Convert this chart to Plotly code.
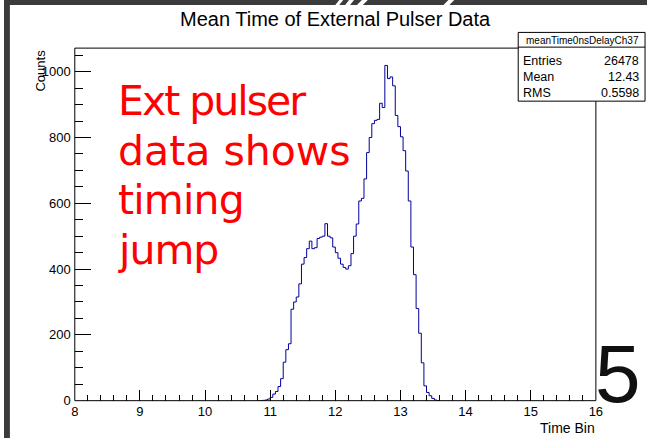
import plotly.graph_objects as go

# ---------------- data ----------------
bin_start = 10.84
bin_width = 0.04
counts = [0, 1, 2, 5, 10, 20, 28, 43, 67, 117, 155, 173, 278, 300, 315, 355,
          415, 435, 462, 485, 462, 465, 493, 497, 500, 538, 500, 495, 467, 450,
          433, 415, 405, 400, 410, 447, 500, 537, 607, 615, 674, 754, 800, 842,
          852, 855, 904, 891, 1019, 979, 984, 957, 867, 833, 802, 760, 698, 607,
          467, 383, 280, 205, 115, 45, 25, 15, 7, 2, 0]

x_ticks = [8, 9, 10, 11, 12, 13, 14, 15, 16]
y_ticks = [0, 200, 400, 600, 800, 1000]

title = "Mean Time of External Pulser Data"
stats_name = "meanTime0nsDelayCh37"
stats_labels = ["Entries", "Mean", "RMS"]
stats_values = ["26478", "12.43", "0.5598"]
note_lines = ["Ext pulser", "data shows", "timing", "jump"]
note_spacing = [-2.0, 0.0, -0.8, -1.0]
slide_number = "5"
x_title = "Time Bin"
y_title = "Counts"

# ---------------- geometry ----------------
W, H = 654, 446
def px(x):
    return x / W
def py(y):
    return 1 - y / H

L, R, T, B = 72, 602, 49, 408
y_max = 1071.6
FONT = "Liberation Sans, Arial, Helvetica, sans-serif"

edges = [bin_start + i * bin_width for i in range(len(counts) + 1)]
ys = counts + [counts[-1]]

fig = go.Figure()
fig.add_trace(go.Scatter(
    x=edges, y=ys, mode="lines", line=dict(shape="hv", color="#00009a", width=1),
    hoverinfo="skip", showlegend=False))

fig.update_layout(
    width=W, height=H, margin=dict(l=0, r=0, t=0, b=0),
    paper_bgcolor="white", plot_bgcolor="white",
    font=dict(family=FONT, color="black"),
    showlegend=False,
    xaxis=dict(domain=[px(L), px(R)], range=[8, 16], tickvals=x_ticks,
               ticktext=[str(v) for v in x_ticks],
               ticks="inside", ticklen=11, tickwidth=1, tickcolor="black",
               minor=dict(dtick=0.2, ticks="inside", ticklen=5.5, tickcolor="black", tickwidth=1),
               showgrid=False, zeroline=False, showline=False,
               tickfont=dict(size=13, family=FONT), ticklabelstandoff=1),
    yaxis=dict(domain=[py(B), py(T)], range=[0, y_max], tickvals=y_ticks,
               ticktext=[str(v) for v in y_ticks],
               ticks="inside", ticklen=16, tickwidth=1, tickcolor="black",
               minor=dict(dtick=50, ticks="inside", ticklen=8, tickcolor="black", tickwidth=1),
               showgrid=False, zeroline=False, showline=False,
               tickfont=dict(size=13, family=FONT), ticklabelstandoff=3),
)

shapes = []
# dark slide borders
shapes.append(dict(type="rect", xref="paper", yref="paper", x0=0, x1=1, y0=py(5), y1=1,
                   fillcolor="#3b3b3b", line=dict(width=0), layer="above"))
shapes.append(dict(type="rect", xref="paper", yref="paper", x0=0, x1=px(6), y0=0, y1=1,
                   fillcolor="#3b3b3b", line=dict(width=0), layer="above"))
# white slashes in the top band
for (xb, xt, w) in [(337, 341, 4), (347, 351, 5), (359, 364, 6), (447, 452, 6)]:
    path = (f"M {px(xb)},{py(5)} L {px(xb + w)},{py(5)} L {px(xt + w)},{py(0)} "
            f"L {px(xt)},{py(0)} Z")
    shapes.append(dict(type="path", xref="paper", yref="paper", path=path,
                       fillcolor="white", line=dict(width=0), layer="above"))
# frame
shapes.append(dict(type="rect", xref="paper", yref="paper", x0=px(L), x1=px(R), y0=py(B), y1=py(T),
                   line=dict(color="black", width=1), fillcolor="rgba(0,0,0,0)", layer="above"))
# stats box
SB_L, SB_R, SB_T, SB_B, SB_SEP = 523, 652, 33, 103, 48
shapes.append(dict(type="rect", xref="paper", yref="paper", x0=px(SB_L), x1=px(SB_R),
                   y0=py(SB_B), y1=py(SB_T), fillcolor="white",
                   line=dict(color="black", width=1), layer="above"))
shapes.append(dict(type="line", xref="paper", yref="paper", x0=px(SB_L), x1=px(SB_R),
                   y0=py(SB_SEP), y1=py(SB_SEP), line=dict(color="black", width=1), layer="above"))
fig.update_layout(shapes=shapes)

ann = []
ann.append(dict(text=title, x=px(337), y=py(19), xref="paper", yref="paper",
                xanchor="center", yanchor="middle", showarrow=False,
                font=dict(size=20, family=FONT, color="black")))
ann.append(dict(text=stats_name, x=px(588), y=py(41), xref="paper", yref="paper",
                xanchor="center", yanchor="middle", showarrow=False,
                font=dict(size=10, family=FONT, color="black")))
for i, (lab, val) in enumerate(zip(stats_labels, stats_values)):
    yy = 62 + i * 16.5
    ann.append(dict(text=lab, x=px(526), y=py(yy), xref="paper", yref="paper",
                    xanchor="left", yanchor="middle", showarrow=False,
                    font=dict(size=12.5, family=FONT, color="black")))
    ann.append(dict(text=val, x=px(648), y=py(yy), xref="paper", yref="paper",
                    xanchor="right", yanchor="middle", showarrow=False,
                    font=dict(size=12.5, family=FONT, color="black")))
ann.append(dict(text=x_title, x=px(603), y=py(436), xref="paper", yref="paper",
                xanchor="right", yanchor="middle", showarrow=False,
                font=dict(size=14, family=FONT, color="black")))
ann.append(dict(text=y_title, x=px(37), y=py(48), xref="paper", yref="paper",
                xanchor="center", yanchor="top", textangle=-90, showarrow=False,
                font=dict(size=13, family=FONT, color="black")))
for i, (line, sp) in enumerate(zip(note_lines, note_spacing)):
    txt = f'<span style="letter-spacing:{sp}px">{line}</span>' if sp else line
    ann.append(dict(text=txt, x=px(114), y=py(103 + i * 50.5), xref="paper", yref="paper",
                    xanchor="left", yanchor="middle", showarrow=False,
                    font=dict(size=41, family="DejaVu Sans", color="#ff0000")))
ann.append(dict(text=slide_number, x=px(624), y=py(380), xref="paper", yref="paper",
                xanchor="center", yanchor="middle", showarrow=False,
                font=dict(size=82, family=FONT, color="#111111")))
fig.update_layout(annotations=ann)

fig.write_html("out.html")
